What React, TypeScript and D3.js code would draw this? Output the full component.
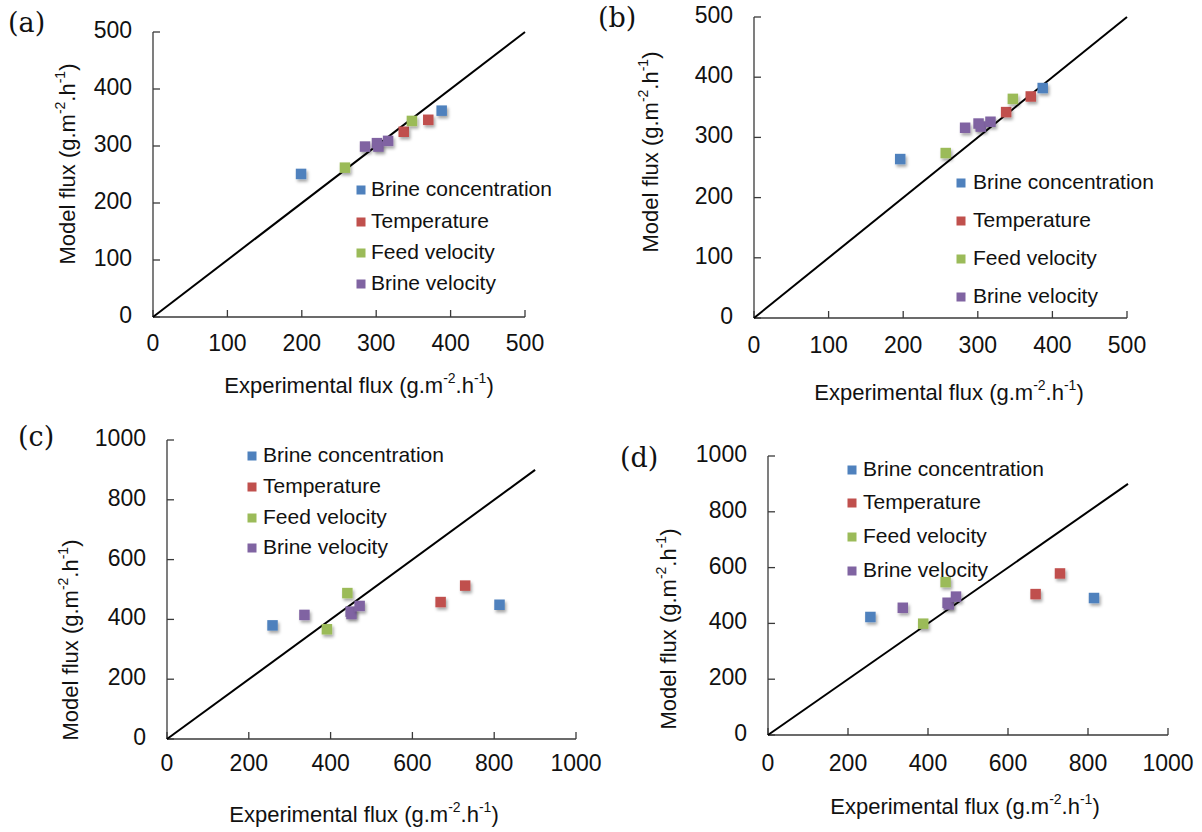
import React from "react";
import * as d3 from "d3";

// ---------- data ----------
const seriesNames = ["Brine concentration", "Temperature", "Feed velocity", "Brine velocity"];
const seriesColors = ["#4F81BD", "#C0504D", "#9BBB59", "#8064A2"];

// panel (a)
const aBrineConc = [[199, 251], [388, 362]];
const aTemperature = [[337, 325], [370, 346]];
const aFeedVel = [[258, 262], [348, 344]];
const aBrineVel = [[285, 299], [301, 305], [303, 299], [316, 309]];

// panel (b)
const bBrineConc = [[196, 264], [387, 382]];
const bTemperature = [[338, 342], [371, 368]];
const bFeedVel = [[257, 274], [347, 364]];
const bBrineVel = [[283, 316], [301, 323], [304, 318], [317, 326]];

// panel (c)
const cBrineConc = [[258, 380], [813, 449]];
const cTemperature = [[669, 458], [729, 513]];
const cFeedVel = [[391, 367], [441, 488]];
const cBrineVel = [[336, 415], [449, 426], [451, 418], [471, 445]];

// panel (d)
const dBrineConc = [[256, 423], [815, 491]];
const dTemperature = [[669, 505], [730, 579]];
const dFeedVel = [[388, 399], [444, 548]];
const dBrineVel = [[337, 456], [449, 474], [452, 468], [470, 496]];

const ticks500 = [0, 100, 200, 300, 400, 500];
const ticks1000 = [0, 200, 400, 600, 800, 1000];
const lineEnd500 = 500;
const lineEnd1000 = 900;

type Panel = {
  label: string;
  series: number[][][];
  ticks: number[];
  max: number;
  lineEnd: number;
  x0: number; x1: number; y0: number; y1: number;
  labelPos: [number, number];
  xTitle: [number, number];
  yTitle: [number, number];
  legend: { sx: number; tx: number; ys: number[] };
  xLabelOff: number;
};

const panels: Panel[] = [
  {
    label: "(a)", series: [aBrineConc, aTemperature, aFeedVel, aBrineVel], ticks: ticks500, max: 500, lineEnd: lineEnd500,
    x0: 153, x1: 525, y0: 317, y1: 32, labelPos: [8, 32], xTitle: [359, 387], yTitle: [69, 164],
    legend: { sx: 361, tx: 371, ys: [190, 222, 253, 284] }, xLabelOff: 28,
  },
  {
    label: "(b)", series: [bBrineConc, bTemperature, bFeedVel, bBrineVel], ticks: ticks500, max: 500, lineEnd: lineEnd500,
    x0: 754, x1: 1127, y0: 318, y1: 17, labelPos: [598, 27], xTitle: [949, 394], yTitle: [652, 152],
    legend: { sx: 961, tx: 973, ys: [183, 221, 259, 297] }, xLabelOff: 29,
  },
  {
    label: "(c)", series: [cBrineConc, cTemperature, cFeedVel, cBrineVel], ticks: ticks1000, max: 1000, lineEnd: lineEnd1000,
    x0: 167, x1: 576, y0: 739, y1: 440, labelPos: [18, 446], xTitle: [364, 816], yTitle: [72, 640],
    legend: { sx: 252, tx: 263, ys: [456, 487, 518, 548] }, xLabelOff: 26,
  },
  {
    label: "(d)", series: [dBrineConc, dTemperature, dFeedVel, dBrineVel], ticks: ticks1000, max: 1000, lineEnd: lineEnd1000,
    x0: 768, x1: 1168, y0: 735, y1: 456, labelPos: [620, 467], xTitle: [965, 808], yTitle: [670, 629],
    legend: { sx: 852, tx: 863, ys: [470, 503, 537, 571] }, xLabelOff: 30,
  },
];

const FONT = "'Liberation Sans', Arial, sans-serif";
const AXIS = "#3a3a3a";

function Unit() {
  return (
    <>
      {"(g.m"}
      <tspan fontSize={14} dy={-8}>-2</tspan>
      <tspan dy={8}>.h</tspan>
      <tspan fontSize={14} dy={-8}>-1</tspan>
      <tspan dy={8}>)</tspan>
    </>
  );
}

function PanelView({ p }: { p: Panel }) {
  const x = d3.scaleLinear().domain([0, p.max]).range([p.x0, p.x1]);
  const y = d3.scaleLinear().domain([0, p.max]).range([p.y0, p.y1]);
  const line = d3.line<number[]>().x((d) => x(d[0])).y((d) => y(d[1]));
  const T = 7;
  const ms = 10.5;
  return (
    <g>
      <text x={p.labelPos[0]} y={p.labelPos[1]} fontFamily="'DejaVu Serif', serif" fontSize={27} fill="#111">{p.label}</text>
      {/* axes */}
      <line x1={x(0)} x2={x(p.max)} y1={y(0)} y2={y(0)} stroke={AXIS} strokeWidth={1.3} />
      <line x1={x(0)} x2={x(0)} y1={y(0)} y2={y(p.max)} stroke={AXIS} strokeWidth={1.3} />
      {p.ticks.map((t) => (
        <g key={"xt" + t}>
          <line x1={x(t)} x2={x(t)} y1={y(0)} y2={y(0) - T} stroke={AXIS} strokeWidth={1.3} />
          <text x={x(t)} y={y(0) + p.xLabelOff} textAnchor="middle" dominantBaseline="middle" fontFamily={FONT} fontSize={23} fill="#111">{t}</text>
        </g>
      ))}
      {p.ticks.map((t) => (
        <g key={"yt" + t}>
          <line x1={x(0)} x2={x(0) + T} y1={y(t)} y2={y(t)} stroke={AXIS} strokeWidth={1.3} />
          <text x={x(0) - 21} y={y(t)} textAnchor="end" dominantBaseline="middle" fontFamily={FONT} fontSize={23} fill="#111">{t}</text>
        </g>
      ))}
      {/* 1:1 line */}
      <path d={line([[0, 0], [p.lineEnd, p.lineEnd]]) || ""} stroke="#000" strokeWidth={2} fill="none" />
      {/* points */}
      {p.series.map((s, si) =>
        s.map((d, di) => (
          <rect key={`p${si}-${di}`} x={x(d[0]) - ms / 2} y={y(d[1]) - ms / 2} width={ms} height={ms}
            fill={seriesColors[si]} filter={`url(#shadow)`} />
        ))
      )}
      {/* legend */}
      {seriesNames.map((n, i) => (
        <g key={"lg" + i}>
          <rect x={p.legend.sx - 4.5} y={p.legend.ys[i] - 4.5} width={9} height={9} fill={seriesColors[i]} />
          <text x={p.legend.tx} y={p.legend.ys[i]} dominantBaseline="middle" fontFamily={FONT} fontSize={21} fill="#111">{n}</text>
        </g>
      ))}
      {/* titles */}
      <text x={p.xTitle[0]} y={p.xTitle[1]} textAnchor="middle" dominantBaseline="middle" fontFamily={FONT} fontSize={22} fill="#111">
        {"Experimental flux "}<Unit />
      </text>
      <text transform={`translate(${p.yTitle[0]},${p.yTitle[1]}) rotate(-90)`} textAnchor="middle" dominantBaseline="middle" fontFamily={FONT} fontSize={22} fill="#111">
        {"Model flux "}<Unit />
      </text>
    </g>
  );
}

export default function App() {
  return (
    <svg width={1202} height={832} style={{ position: "absolute", left: 0, top: 0, background: "#fff" }}>
      <defs>
        <filter id="shadow" x="-50%" y="-50%" width="200%" height="200%">
          <feDropShadow dx={1.5} dy={2.5} stdDeviation={1.6} floodColor="#000" floodOpacity={0.35} />
        </filter>
      </defs>
      <rect width={1202} height={832} fill="#fff" />
      {panels.map((p, i) => <PanelView key={i} p={p} />)}
    </svg>
  );
}
